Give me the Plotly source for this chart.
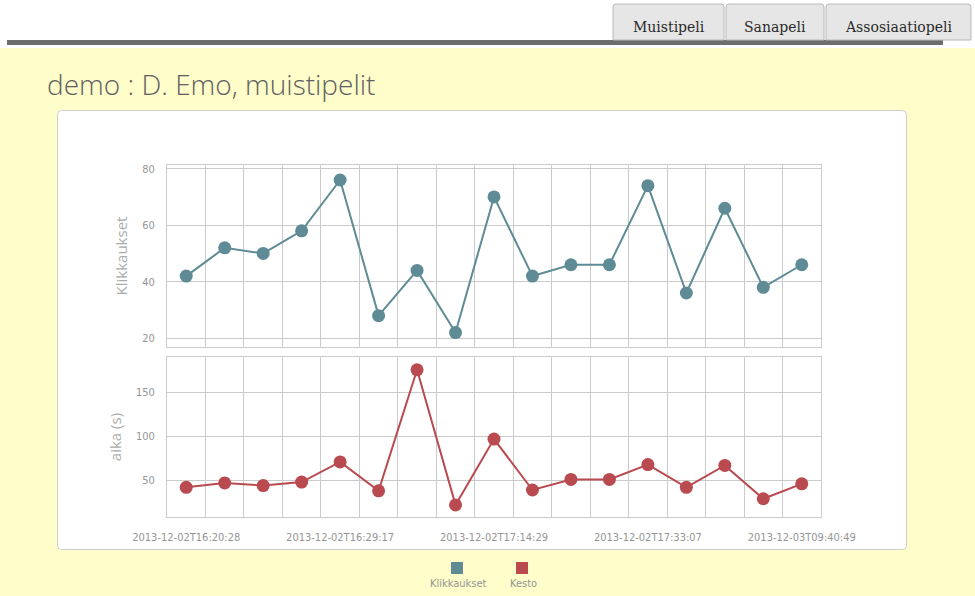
import plotly.graph_objects as go

# ---------------- data ----------------
series_names = ["Klikkaukset", "Kesto"]
sample_index = list(range(17))
klikkaukset = [42, 52, 50, 58, 76, 28, 44, 22, 70, 42, 46, 46, 74, 36, 66, 38, 46]
kesto = [42, 47, 44, 48, 71, 38, 176, 22, 97, 39, 51, 51, 68, 42, 67, 29, 46]
tick_index = [0, 4, 8, 12, 16]
tick_labels = ["2013-12-02T16:20:28", "2013-12-02T16:29:17", "2013-12-02T17:14:29",
               "2013-12-02T17:33:07", "2013-12-03T09:40:49"]
nav_buttons = ["Muistipeli", "Sanapeli", "Assosiaatiopeli"]
page_title = "demo : D. Emo, muistipelit"
y_titles = ["Klikkaukset", "aika (s)"]

# ---------------- style ----------------
W, H = 975, 596
BG = "#FFFDCA"
TEAL = "#5E8B95"
RED = "#B94A50"
GRID = "#CBCBCB"
TICKFONT = dict(family="DejaVu Sans Condensed, Liberation Sans Narrow, sans-serif", size=11, color="#959595")
TITLEFONT = dict(family="Open Sans, Noto Sans, sans-serif", size=15, color="#ababab")


def px(x):
    return x / W


def py(y):
    return 1 - y / H


def rounded_path(x0, y0, x1, y1, r, top_only=False):
    rx, ry = r / W, r / H
    X0, X1 = px(x0), px(x1)
    Y0, Y1 = py(y0), py(y1)  # Y0 top (larger), Y1 bottom
    if top_only:
        return (f"M {X0},{Y1} L {X0},{Y0 - ry} Q {X0},{Y0} {X0 + rx},{Y0} "
                f"L {X1 - rx},{Y0} Q {X1},{Y0} {X1},{Y0 - ry} L {X1},{Y1} Z")
    return (f"M {X0 + rx},{Y0} L {X1 - rx},{Y0} Q {X1},{Y0} {X1},{Y0 - ry} "
            f"L {X1},{Y1 + ry} Q {X1},{Y1} {X1 - rx},{Y1} L {X0 + rx},{Y1} "
            f"Q {X0},{Y1} {X0},{Y1 + ry} L {X0},{Y0 - ry} Q {X0},{Y0} {X0 + rx},{Y0} Z")


fig = go.Figure()
fig.add_trace(go.Scatter(x=sample_index, y=klikkaukset, mode="lines+markers", name=series_names[0],
                         line=dict(color=TEAL, width=2), marker=dict(color=TEAL, size=13),
                         xaxis="x", yaxis="y", showlegend=False))
fig.add_trace(go.Scatter(x=sample_index, y=kesto, mode="lines+markers", name=series_names[1],
                         line=dict(color=RED, width=2), marker=dict(color=RED, size=13),
                         xaxis="x2", yaxis="y2", showlegend=False))

half_steps = [i + 0.5 for i in sample_index[:-1]]
xcommon = dict(range=[-0.5, 16.5], domain=[px(167), px(821)], showgrid=False, zeroline=False,
               showline=True, mirror=True, linecolor=GRID, linewidth=1, automargin=False,
               tickmode="array", tickvals=tick_index, ticktext=tick_labels, ticks="",
               tickfont=TICKFONT,
               minor=dict(tickmode="array", tickvals=half_steps, showgrid=True, gridcolor=GRID,
                          gridwidth=1, ticks=""))
ycommon = dict(showgrid=True, gridcolor=GRID, gridwidth=1, zeroline=False, showline=True, mirror=True,
               linecolor=GRID, linewidth=1, ticks="", tickfont=TICKFONT, ticklabelstandoff=9,
               automargin=False)

fig.update_layout(
    width=W, height=H, margin=dict(l=0, r=0, t=0, b=0, pad=0, autoexpand=False),
    paper_bgcolor=BG, plot_bgcolor="white", showlegend=False,
    xaxis=dict(**xcommon, anchor="y", showticklabels=False),
    xaxis2=dict(**xcommon, anchor="y2", matches="x", ticklabelstandoff=10),
    yaxis=dict(**ycommon, domain=[py(347), py(165)], range=[16.9, 81.3], tickvals=[20, 40, 60, 80],
               title=dict(text=y_titles[0], font=TITLEFONT, standoff=10)),
    yaxis2=dict(**ycommon, domain=[py(517), py(357)], range=[8.2, 190.6], tickvals=[50, 100, 150],
                title=dict(text=y_titles[1], font=TITLEFONT, standoff=10)),
)

shapes = []
# white header band + dark rule
shapes.append(dict(type="rect", xref="paper", yref="paper", x0=0, x1=1, y0=py(48), y1=1,
                   fillcolor="white", line=dict(width=0), layer="below"))
shapes.append(dict(type="rect", xref="paper", yref="paper", x0=px(7), x1=px(943), y0=py(45), y1=py(40),
                   fillcolor="#6d6d6d", line=dict(width=0), layer="below"))
# nav buttons
button_bounds = [(613, 724), (726, 824), (826, 971)]
annotations = []
for (bx0, bx1), label in zip(button_bounds, nav_buttons):
    shapes.append(dict(type="path", xref="paper", yref="paper",
                       path=rounded_path(bx0, 4, bx1, 40, 3, top_only=True),
                       fillcolor="#e6e6e6", line=dict(color="#b9b9b9", width=1), layer="below"))
    annotations.append(dict(text=label, xref="paper", yref="paper", x=px((bx0 + bx1) / 2), y=py(27),
                            xanchor="center", yanchor="middle", showarrow=False,
                            font=dict(family="DejaVu Serif, Liberation Serif, serif", size=14, color="#2a2a2a")))
# chart panel
shapes.append(dict(type="path", xref="paper", yref="paper", path=rounded_path(57.5, 110.5, 906.5, 549.5, 4),
                   fillcolor="white", line=dict(color="#cfcfcf", width=1), layer="below"))

# page title
annotations.append(dict(text=page_title, xref="paper", yref="paper", x=px(45), y=py(84),
                        xanchor="left", yanchor="middle", showarrow=False,
                        font=dict(family="Open Sans, Lato, sans-serif", size=28, color="#606060", weight=300)))

# custom legend (square above label)
legend_centers = [457, 522]
for name, color, cx in zip(series_names, [TEAL, RED], legend_centers):
    shapes.append(dict(type="rect", xref="paper", yref="paper", x0=px(cx - 6), x1=px(cx + 6),
                       y0=py(574), y1=py(562), fillcolor=color, line=dict(width=0)))
    annotations.append(dict(text=name, xref="paper", yref="paper", x=px(cx + 1), y=py(583),
                            xanchor="center", yanchor="middle", showarrow=False,
                            font=dict(family="DejaVu Sans Condensed, sans-serif", size=11, color="#959595")))

fig.update_layout(shapes=shapes, annotations=annotations)
fig.write_html("out.html")
